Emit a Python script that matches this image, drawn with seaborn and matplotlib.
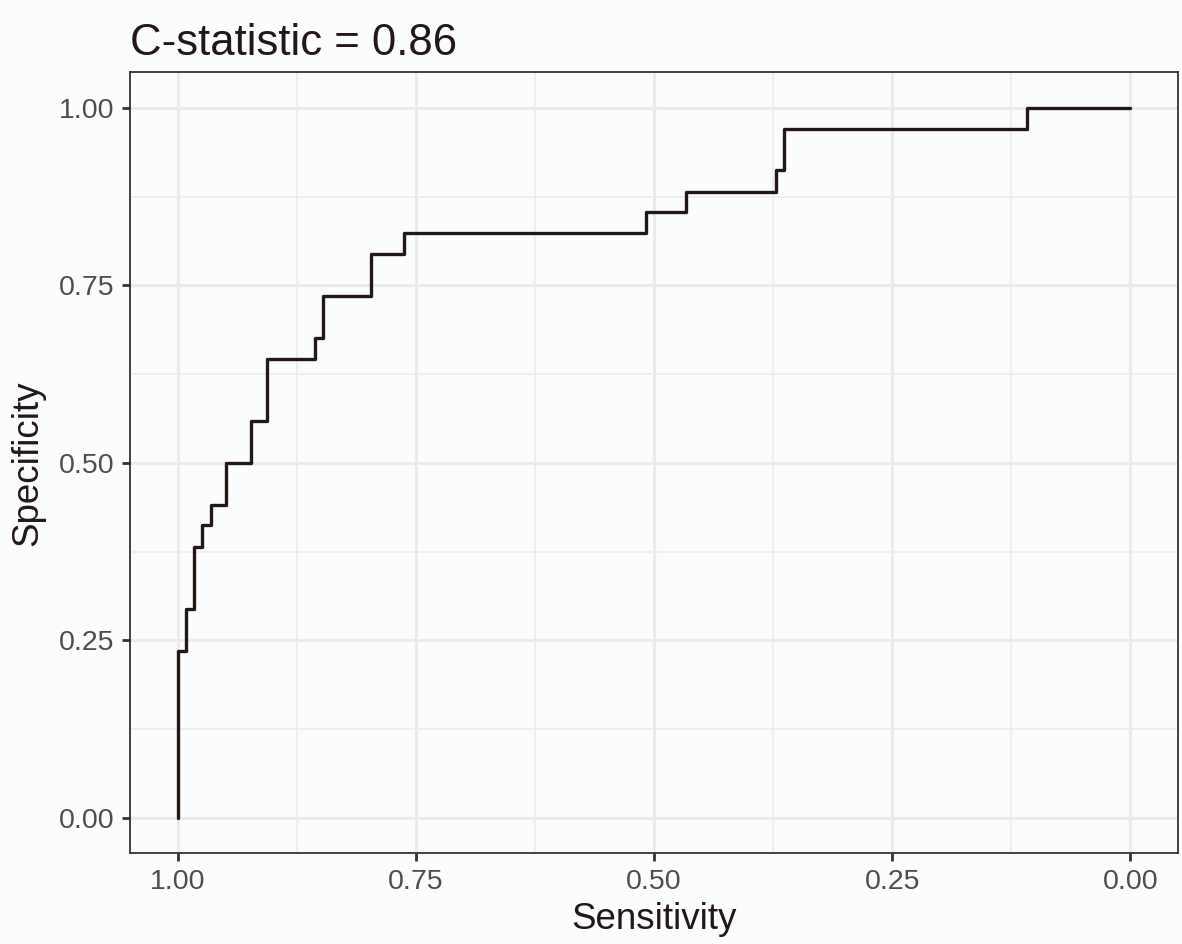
import matplotlib
matplotlib.use("Agg")
import matplotlib.pyplot as plt
import seaborn as sns
import pandas as pd
from matplotlib.ticker import MultipleLocator

# ROC curve corner points
sensitivity = [1.0, 1.0, 0.9916, 0.983, 0.974, 0.965, 0.949, 0.923, 0.906,
               0.856, 0.847, 0.797, 0.762, 0.508, 0.466, 0.372, 0.364, 0.109, 0.0]
specificity = [0.0, 0.235, 0.294, 0.382, 0.412, 0.441, 0.5, 0.559, 0.647,
               0.676, 0.735, 0.794, 0.824, 0.853, 0.882, 0.912, 0.971, 1.0, 1.0]
tick_values = [0.0, 0.25, 0.5, 0.75, 1.0]
tick_labels = ["0.00", "0.25", "0.50", "0.75", "1.00"]
title_text = "C-statistic = 0.86"

bg = "#fbfcfe"
sns.set_theme(style="white")
plt.rcParams["font.family"] = ["Liberation Sans", "DejaVu Sans"]

df = pd.DataFrame({"Sensitivity": sensitivity, "Specificity": specificity})

fig = plt.figure(figsize=(11.82, 9.44), dpi=100, facecolor=bg)
ax = fig.add_axes([0.110, 0.0959, 0.8866, 0.8273])
ax.set_facecolor(bg)

# grid
ax.xaxis.set_major_locator(MultipleLocator(0.25))
ax.yaxis.set_major_locator(MultipleLocator(0.25))
ax.xaxis.set_minor_locator(MultipleLocator(0.125))
ax.yaxis.set_minor_locator(MultipleLocator(0.125))
ax.grid(True, which="major", color="#ebebeb", linewidth=2.2, zorder=0)
ax.grid(True, which="minor", color="#ebebeb", linewidth=1.1, zorder=0)
ax.set_axisbelow(True)

sns.lineplot(data=df, x="Sensitivity", y="Specificity", sort=False, estimator=None,
             drawstyle="steps-post", color="#231815", linewidth=2.4, ax=ax, zorder=3)

ax.set_xlim(1.05, -0.05)
ax.set_ylim(-0.05, 1.05)
ax.set_xticks(tick_values)
ax.set_xticklabels(tick_labels)
ax.set_yticks(tick_values)
ax.set_yticklabels(tick_labels)

for s in ax.spines.values():
    s.set_color("#333333")
    s.set_linewidth(1.3)

ax.tick_params(axis="both", which="major", length=6, width=2, color="#333333",
               labelsize=20.5, labelcolor="#4d4d4d", pad=5, bottom=True, left=True)
ax.tick_params(axis="both", which="minor", length=0)

ax.set_xlabel("Sensitivity", fontsize=26.5, color="#231815", labelpad=5)
ax.set_ylabel("Specificity", fontsize=26.5, color="#231815", labelpad=10)

fig.text(0.110, 0.942, title_text, fontsize=31.5, color="#231815", ha="left", va="baseline")

fig.savefig("out.png", dpi=100, facecolor=bg)
